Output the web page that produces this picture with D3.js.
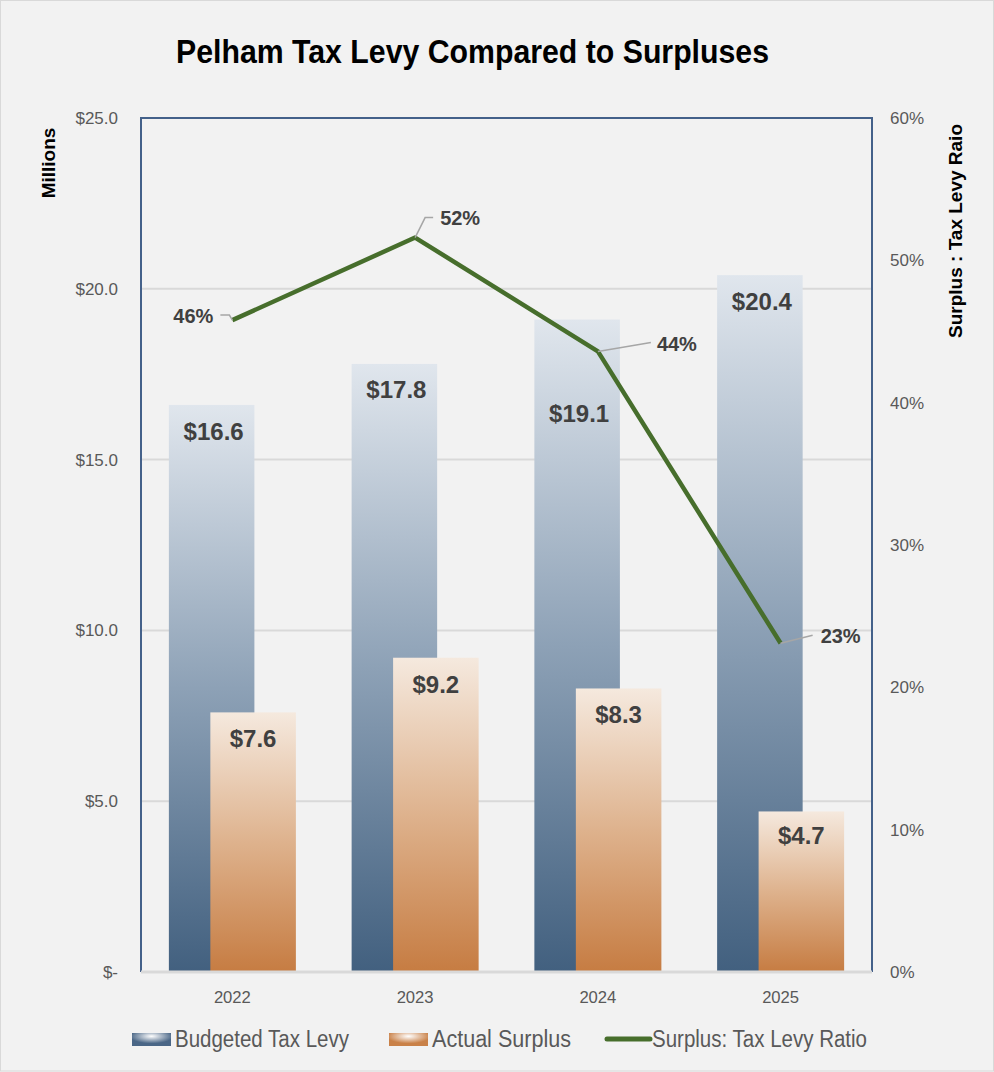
<!DOCTYPE html>
<html>
<head>
<meta charset="utf-8">
<script src="https://cdn.jsdelivr.net/npm/d3@7"></script>
<style>
  body { margin: 0; background: #f2f2f2; }
  svg { display: block; }
</style>
</head>
<body>
<div id="chart"></div>
<script>
// Chart data
const years = ["2022", "2023", "2024", "2025"];
const budgetedLevy = [16.6, 17.8, 19.1, 20.4];
const actualSurplus = [7.6, 9.2, 8.3, 4.7];
const surplusRatio = [0.458, 0.516, 0.436, 0.231];
const leftTicks = [0, 5, 10, 15, 20, 25];
const rightTicks = [0, 0.1, 0.2, 0.3, 0.4, 0.5, 0.6];
const legendLabels = ["Budgeted Tax Levy", "Actual Surplus", "Surplus: Tax Levy Ratio"];

const width = 994,
  height = 1072;
const plot = { left: 141, right: 872, top: 118, bottom: 972 };

// no narrow font installed, so regular sans is squeezed with textLength where needed
const regular = "'Liberation Sans', Arial, sans-serif";

const svg = d3
  .select("#chart")
  .append("svg")
  .attr("width", width)
  .attr("height", height);

svg
  .append("rect")
  .attr("x", 0.5)
  .attr("y", 0.5)
  .attr("width", width - 1)
  .attr("height", height - 1.5)
  .attr("fill", "#f2f2f2")
  .attr("stroke", "#d9d9d9");

// Gradients
const defs = svg.append("defs");
function linGrad(id, top, mid, bottom) {
  const g = defs
    .append("linearGradient")
    .attr("id", id)
    .attr("x1", 0).attr("y1", 0)
    .attr("x2", 0).attr("y2", 1);
  g.append("stop").attr("offset", "0%").attr("stop-color", top);
  g.append("stop").attr("offset", "50%").attr("stop-color", mid);
  g.append("stop").attr("offset", "100%").attr("stop-color", bottom);
}
linGrad("gradBudget", "#e0e6ed", "#8da1b6", "#42607f");
linGrad("gradActual", "#f5e9de", "#deb28d", "#c67c42");

function radGrad(id, edge) {
  const g = defs
    .append("radialGradient")
    .attr("id", id)
    .attr("cx", "50%").attr("cy", "25%")
    .attr("r", "55%");
  g.append("stop").attr("offset", "0%").attr("stop-color", "#ffffff");
  g.append("stop").attr("offset", "100%").attr("stop-color", edge);
}
radGrad("legBudget", "#4a6686");
radGrad("legActual", "#c98148");

// Scales
const x = d3
  .scaleBand()
  .domain(years)
  .range([plot.left, plot.right])
  .padding(0);

const y = d3.scaleLinear().domain([0, 25]).range([plot.bottom, plot.top]);
const y2 = d3.scaleLinear().domain([0, 0.6]).range([plot.bottom, plot.top]);

const barW = x.bandwidth() * 0.468;
const shift = x.bandwidth() * 0.1135;
const cx = (d) => x(d) + x.bandwidth() / 2;

// Title
svg
  .append("text")
  .attr("x", 176)
  .attr("y", 63)
  .attr("textLength", 593)
  .attr("lengthAdjust", "spacingAndGlyphs")
  .style("font-family", regular)
  .style("font-weight", "bold")
  .style("font-size", "33px")
  .style("fill", "#000")
  .text("Pelham Tax Levy Compared to Surpluses");

// Gridlines
svg
  .append("g")
  .selectAll("line")
  .data(leftTicks.filter((t) => t > 0 && t < 25))
  .enter()
  .append("line")
  .attr("x1", plot.left)
  .attr("x2", plot.right)
  .attr("y1", (d) => y(d))
  .attr("y2", (d) => y(d))
  .attr("stroke", "#d9d9d9")
  .attr("stroke-width", 2);

// Left axis
const leftAxis = svg
  .append("g")
  .attr("transform", `translate(${plot.left - 23},0)`)
  .call(
    d3
      .axisLeft(y)
      .tickValues(leftTicks)
      .tickSize(0)
      .tickFormat((d) => (d === 0 ? "$-" : "$" + d3.format(".1f")(d)))
  );
leftAxis.select(".domain").remove();
leftAxis
  .selectAll("text")
  .attr("x", 0)
  .style("font-family", regular)
  .style("font-size", "17px")
  .style("fill", "#595959");

// Right axis
const rightAxis = svg
  .append("g")
  .attr("transform", `translate(${plot.right + 18},0)`)
  .call(d3.axisRight(y2).tickValues(rightTicks).tickSize(0).tickFormat(d3.format(".0%")));
rightAxis.select(".domain").remove();
rightAxis
  .selectAll("text")
  .attr("x", 0)
  .style("font-family", regular)
  .style("font-size", "17px")
  .style("fill", "#595959");

// X axis labels
const xAxis = svg
  .append("g")
  .attr("transform", `translate(0,${plot.bottom + 16})`)
  .call(d3.axisBottom(x).tickSize(0));
xAxis.select(".domain").remove();
xAxis
  .selectAll("text")
  .attr("textLength", 37)
  .attr("lengthAdjust", "spacingAndGlyphs")
  .style("font-family", regular)
  .style("font-size", "17px")
  .style("fill", "#595959");

// Axis titles
svg
  .append("text")
  .attr("transform", "translate(55,163) rotate(-90)")
  .attr("text-anchor", "middle")
  .style("font-family", regular)
  .style("font-weight", "bold")
  .style("font-size", "19px")
  .text("Millions");

svg
  .append("text")
  .attr("transform", "translate(962,231) rotate(-90)")
  .attr("text-anchor", "middle")
  .style("font-family", regular)
  .style("font-weight", "bold")
  .style("font-size", "19px")
  .text("Surplus : Tax Levy Raio");

// Bars - budgeted levy
svg
  .append("g")
  .selectAll("rect")
  .data(years)
  .enter()
  .append("rect")
  .attr("x", (d) => cx(d) - shift - barW / 2)
  .attr("y", (d, i) => y(budgetedLevy[i]))
  .attr("width", barW)
  .attr("height", (d, i) => plot.bottom - y(budgetedLevy[i]))
  .attr("fill", "url(#gradBudget)");

// Bars - actual surplus
svg
  .append("g")
  .selectAll("rect")
  .data(years)
  .enter()
  .append("rect")
  .attr("x", (d) => cx(d) + shift - barW / 2)
  .attr("y", (d, i) => y(actualSurplus[i]))
  .attr("width", barW)
  .attr("height", (d, i) => plot.bottom - y(actualSurplus[i]))
  .attr("fill", "url(#gradActual)");

// Bar labels (the 2024 levy label sits lower, out of the line's way)
const levyLabelDrop = [35, 34, 102, 35];
const surplusLabelDrop = [35, 35, 35, 33];

const labelStyle = (sel) =>
  sel
    .attr("text-anchor", "middle")
    .style("font-family", regular)
    .style("font-weight", "bold")
    .style("font-size", "24px")
    .style("fill", "#404040");

svg
  .append("g")
  .selectAll("text")
  .data(years)
  .enter()
  .append("text")
  .attr("x", (d) => cx(d) - shift + 2)
  .attr("y", (d, i) => y(budgetedLevy[i]) + levyLabelDrop[i])
  .text((d, i) => "$" + d3.format(".1f")(budgetedLevy[i]))
  .call(labelStyle);

svg
  .append("g")
  .selectAll("text")
  .data(years)
  .enter()
  .append("text")
  .attr("x", (d) => cx(d) + shift)
  .attr("y", (d, i) => y(actualSurplus[i]) + surplusLabelDrop[i])
  .text((d, i) => "$" + d3.format(".1f")(actualSurplus[i]))
  .call(labelStyle);

// Plot frame: left, top, right in blue; bottom axis line in grey
svg
  .append("path")
  .attr(
    "d",
    `M${plot.left},${plot.bottom}V${plot.top}H${plot.right}V${plot.bottom}`
  )
  .attr("fill", "none")
  .attr("stroke", "#44618a")
  .attr("stroke-width", 2);

svg
  .append("line")
  .attr("x1", plot.left)
  .attr("x2", plot.right)
  .attr("y1", plot.bottom)
  .attr("y2", plot.bottom)
  .attr("stroke", "#d9d9d9")
  .attr("stroke-width", 3);

// Ratio line
const line = d3
  .line()
  .x((d) => cx(d))
  .y((d, i) => y2(surplusRatio[i]));

svg
  .append("path")
  .datum(years)
  .attr("d", line)
  .attr("fill", "none")
  .attr("stroke", "#476e2c")
  .attr("stroke-width", 4.5)
  .attr("stroke-linejoin", "round");

// Ratio labels with leader lines (offsets relative to each point)
const ratioLabelPos = [
  { leader: [[-3, -5], [-12, -5]], tx: -19, ty: -4, anchor: "end" },
  { leader: [[10, -20], [18, -20]], tx: 25, ty: -20, anchor: "start" },
  { leader: [[53, -9]], tx: 59, ty: -7, anchor: "start" },
  { leader: [[32, -8]], tx: 40, ty: -7, anchor: "start" },
];

const ratioG = svg.append("g");
years.forEach((yr, i) => {
  const px = cx(yr),
    py = y2(surplusRatio[i]);
  const p = ratioLabelPos[i];
  const pts = [[px, py]].concat(p.leader.map((o) => [px + o[0], py + o[1]]));
  ratioG
    .append("path")
    .attr("d", d3.line()(pts))
    .attr("fill", "none")
    .attr("stroke", "#a6a6a6")
    .attr("stroke-width", 1.5);
  ratioG
    .append("text")
    .attr("x", px + p.tx)
    .attr("y", py + p.ty)
    .attr("dy", "0.35em")
    .attr("text-anchor", p.anchor)
    .style("font-family", regular)
    .style("font-weight", "bold")
    .style("font-size", "20px")
    .style("fill", "#404040")
    .text(d3.format(".0%")(surplusRatio[i]));
});

// Legend
const legendX = [132, 389, 607];
const legendTextW = [174, 139, 215];
const legend = svg.append("g").attr("transform", "translate(0,1039)");
legendLabels.forEach((lab, i) => {
  if (i < 2) {
    legend
      .append("rect")
      .attr("x", legendX[i])
      .attr("y", -6)
      .attr("width", 39)
      .attr("height", 13)
      .attr("fill", i === 0 ? "url(#legBudget)" : "url(#legActual)");
  } else {
    legend
      .append("line")
      .attr("x1", legendX[i])
      .attr("x2", legendX[i] + 43)
      .attr("y1", 0)
      .attr("y2", 0)
      .attr("stroke", "#476e2c")
      .attr("stroke-width", 5)
      .attr("stroke-linecap", "round");
  }
  legend
    .append("text")
    .attr("x", legendX[i] + (i < 2 ? 43 : 45))
    .attr("y", 0)
    .attr("dy", "0.35em")
    .attr("textLength", legendTextW[i])
    .attr("lengthAdjust", "spacingAndGlyphs")
    .style("font-family", regular)
    .style("font-size", "23px")
    .style("fill", "#595959")
    .text(lab);
});
</script>
</body>
</html>
